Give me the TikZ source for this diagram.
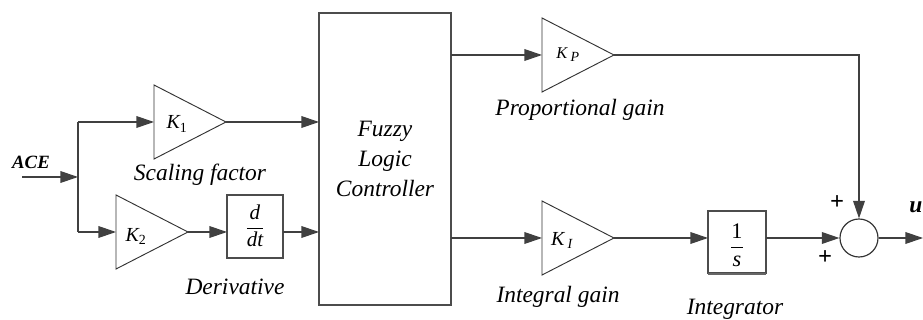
\documentclass[tikz,border=0pt]{standalone}
\usepackage{fontspec}
\setmainfont{Liberation Serif}
\usetikzlibrary{shapes.geometric,arrows.meta}
\begin{document}
\begin{tikzpicture}[x=0.03cm,y=-0.03cm,
  line/.style={draw=black!75, line width=1pt},
  arr/.style={line, -{Triangle[length=15pt,width=10pt]}},
  amp/.style={isosceles triangle, isosceles triangle stretches, shape border rotate=0,
    draw=black!80, line width=0.8pt, inner sep=0pt, outer sep=0pt,
    minimum width=2.22cm, minimum height=2.16cm, anchor=apex},
  blk/.style={draw=black!70, line width=1.1pt, inner sep=0pt, outer sep=0pt},
  lab/.style={font=\fontsize{20}{24}\selectfont\itshape},
  gain/.style={font=\fontsize{17}{20}\selectfont\itshape, inner sep=0pt},
  plus/.style={font=\fontsize{21}{24}\selectfont\bfseries, inner sep=0pt}]
\useasboundingbox (0,0) rectangle (923,320);

% blocks
\node[amp] (K1) at (226,122) {};
\node[amp] (K2) at (188,232) {};
\node[amp] (KP) at (614,55) {};
\node[amp] (KI) at (614,238) {};
\node[blk, minimum width=3.96cm, minimum height=8.76cm, align=center,
  font=\fontsize{20}{25.6}\selectfont\itshape] (flc) at (385,159) {Fuzzy\\Logic\\Controller};
\node[blk, minimum width=1.68cm, minimum height=1.89cm] (dd) at (255,226.5) {};
\node[blk, minimum width=1.74cm, minimum height=1.86cm] (int) at (737,242) {};
\draw[black!60, line width=1.8pt] ([yshift=-1pt]int.south west) -- ([yshift=-1pt]int.south east);
\node[circle, draw=black!80, line width=1pt, minimum size=1.14cm, inner sep=0pt] (sum) at (859,238) {};

% block contents
\node[font=\fontsize{18}{21}\selectfont, inner sep=0pt] (ddt) at (255,226) {$\displaystyle\frac{\hbox{\itshape d}}{\hbox{\itshape dt}}$};
\node[font=\fontsize{19}{22}\selectfont, inner sep=0pt] (ints) at (737,245) {$\displaystyle\frac{\hbox{1}}{\hbox{\itshape s}}$};
\node[gain] (k1t) at (177,124) {K\textsubscript{\upshape 1}};
\node[gain] (k2t) at (136,236) {K\textsubscript{\upshape 2}};
\node[gain] (kpt) at (568,55) {{\fontsize{14}{16}\selectfont K}\,\textsubscript{P}};
\node[gain] (kit) at (562,240) {K\,\textsubscript{I}};

% labels
\node[font=\fontsize{16}{19}\selectfont\itshape\bfseries, inner sep=0pt] (ace) at (31,162) {ACE};
\node[lab] (lsf) at (200,175) {Scaling factor};
\node[lab] (lder) at (235,287) {Derivative};
\node[lab] (lpg) at (580,110) {Proportional gain};
\node[lab] (lig) at (558,297) {Integral gain};
\node[lab, inner sep=0pt] (lint) at (735,309) {Integrator};
\node[plus] (p1) at (837,203) {+};
\node[plus] (p2) at (825,258) {+};
\node[font=\fontsize{20}{24}\selectfont\itshape\bfseries, inner sep=0pt] (u) at (916,207) {u};

% connectors
\coordinate (in) at (22,177);
\coordinate (j) at (78,177);
\coordinate (jt) at (78,122);
\coordinate (jb) at (78,232);
\coordinate (out) at (923,238);
\draw[arr] (in) -- (j);
\draw[line] (jt) -- (jb);
\draw[arr] (jt) -- (K1.west);
\draw[arr] (jb) -- (K2.west);
\draw[arr] (K1.east) -- (K1.east -| flc.west);
\draw[arr] (K2.east) -- (K2.east -| dd.west);
\draw[arr] (dd.east |- K2.east) -- (K2.east -| flc.west);
\draw[arr] (flc.east |- KP.east) -- (KP.west);
\draw[arr] (flc.east |- KI.east) -- (KI.west);
\draw[arr] (KI.east) -- (KI.east -| int.west);
\draw[arr] (int.east |- KI.east) -- (sum.west);
\draw[arr] (KP.east) -| (sum.north);
\draw[arr] (sum.east) -- (out);
\end{tikzpicture}
\end{document}
